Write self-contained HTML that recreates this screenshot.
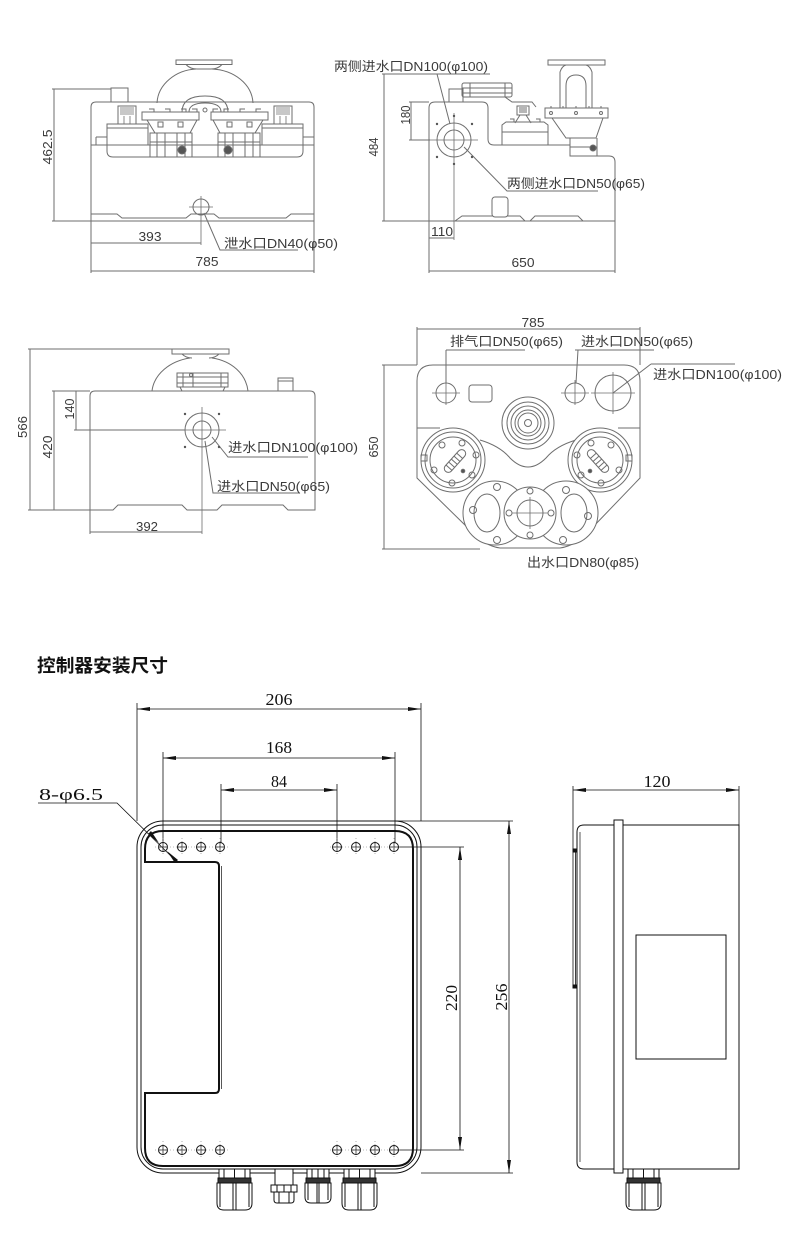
<!DOCTYPE html>
<html><head><meta charset="utf-8">
<style>
html,body{margin:0;padding:0;background:#fff;}
svg{display:block;}
.t{font-family:"Liberation Sans","Noto Sans CJK SC",sans-serif;font-size:13px;fill:#3a3a3a;stroke:none;}
.s{font-family:"Liberation Serif","Noto Serif CJK SC",serif;font-size:17px;fill:#111;stroke:none;}
.h{font-family:"Liberation Sans","Noto Sans CJK SC",sans-serif;font-size:18px;font-weight:bold;fill:#111;stroke:none;}
</style></head><body>
<svg width="790" height="1256" viewBox="0 0 790 1256" xmlns="http://www.w3.org/2000/svg">
<rect width="790" height="1256" fill="#fff"/>

<!-- ============ DRAWING 1 : front view ============ -->
<g fill="none" stroke="#6e6e6e" stroke-width="1">
 <rect x="176" y="60" width="56" height="4.5" fill="#fff"/>
 <path d="M186 64.5 Q190 69 197 69 L211 69 Q218 69 222 64.5"/>
 <path d="M157 103 C158 84 176 70 196 69 M212 69 C234 70 252 84 253 103"/>
 <path d="M91 145 L91 107 Q91 102 96 102 L309 102 Q314 102 314 107 L314 145"/>
 <rect x="111" y="88" width="17" height="14" fill="#fff"/>
 <path d="M182 112 Q182 96 205 96 Q228 96 228 112"/>
 <path d="M189 112 Q189 103 205 103 Q221 103 221 112"/>
 <circle cx="205" cy="110" r="2"/>
 <g id="pl">
  <rect x="107" y="124" width="41" height="21" fill="#fff"/>
  <path d="M107 128 H148 M96 137 H107 M96 137 V145"/>
  <rect x="118" y="106" width="18" height="18" fill="#fff"/>
  <path d="M120 108 H134 M120 110 H134 M120 112 H134 M120 114 H134 M124 116 V124 M130 116 V124" stroke-width="0.8"/>
  <rect x="142" y="112" width="57" height="8" fill="#fff"/>
  <path d="M149 109 h5 v3 M165 109 h5 v3 M181 109 h5 v3 M192 109 h5 v3"/>
  <path d="M147 120 L155 133 L190 133 L197 120"/>
  <path d="M158 122 h5 v5 h-5 z M178 122 h5 v5 h-5 z"/>
  <rect x="150" y="133" width="42" height="24" fill="#fff"/>
  <path d="M157 133 V157 M165 133 V157 M177 133 V157 M185 133 V157 M150 142 H192"/>
  <circle cx="182" cy="150" r="4" fill="#555"/>
 </g>
 <use href="#pl" transform="translate(410,0) scale(-1,1)"/>
 <path d="M107 145 V151 Q107 157 113 157 H150 M192 157 H218 M260 157 H297 Q303 157 303 151 V145"/>
 <path d="M91 145 H314 M91 145 V221 M314 145 V221"/>
 <path d="M91 214 H117 L122 218 H186 L191 214 H214 L219 218 H286 L291 214 H314"/>
 <line x1="91" y1="221" x2="314" y2="221"/>
 <circle cx="201" cy="207" r="8"/>
 <path d="M189 207 H213 M201 196 V245" stroke-width="0.8"/>
 <path d="M54 89 V221 M52 89 H111 M52 221 H91 M91 221 V273 M314 221 V273 M91 243 H201 M91 271 H314"/>
 <path d="M204 213 L220 250 H298"/>
</g>
<text class="t" transform="translate(52,147) rotate(-90)" text-anchor="middle" textLength="35" lengthAdjust="spacingAndGlyphs">462.5</text>
<text class="t" x="150" y="241" text-anchor="middle" textLength="23" lengthAdjust="spacingAndGlyphs">393</text>
<text class="t" x="207" y="266" text-anchor="middle" textLength="23" lengthAdjust="spacingAndGlyphs">785</text>
<text class="t" x="224" y="248" textLength="114" lengthAdjust="spacingAndGlyphs">泄水口DN40(φ50)</text>

<!-- ============ DRAWING 2 : side view ============ -->
<g fill="none" stroke="#6e6e6e" stroke-width="1">
 <path d="M429 221 V108 Q429 102 435 102 H482 Q488 102 488 108 V139 Q488 145 494 145 H570 V156 H609 Q615 156 615 162 V221 Z"/>
 <path d="M455 221 L462 216 H520 L525 221 M530 221 L535 216 H578 L583 221"/>
 <rect x="492" y="197" width="16" height="20" rx="3" fill="#fff"/>
 <rect x="449" y="89" width="14" height="13"/>
 <rect x="462" y="83" width="50" height="14" rx="2"/>
 <path d="M462 88 H512 M462 93 H512 M470 83 V97 M505 83 V97 M505 97 L512 102 H532 L536 107"/>
 <rect x="517" y="106" width="12" height="9"/>
 <path d="M519 108 H527 M519 110 H527 M519 112 H527 M520 115 L515 123 M526 115 L531 123"/>
 <path d="M502 145 V125 L506 122 H544 L548 125 V145"/>
 <path d="M510 119 h4 v3 M536 119 h4 v3 M502 132 H548"/>
 <rect x="548" y="60" width="57" height="5" fill="#fff"/>
 <path d="M560 108 V72 Q562 66 566 65 M592 108 V72 Q590 66 586 65"/>
 <path d="M566 108 V86 Q566 75 576 75 Q586 75 586 86 V108"/>
 <rect x="545" y="108" width="63" height="10" fill="#fff"/>
 <path d="M551 106 v2 M563 106 v2 M576 106 v2 M589 106 v2 M601 106 v2"/>
 <circle cx="551" cy="113" r="1.5"/><circle cx="601" cy="113" r="1.5"/><circle cx="576" cy="113" r="1.5"/>
 <path d="M552 118 L566 138 H596 L603 118"/>
 <path d="M570 138 V156 M597 138 V156 M570 147 H597"/>
 <circle cx="593" cy="148" r="3" fill="#555"/>
 <circle cx="454" cy="140" r="17" fill="#fff"/>
 <circle cx="454" cy="140" r="10"/>
 <path d="M430 140 H478 M454 113 V240" stroke-width="0.8"/>
 <path d="M384 74 V221 M382 74 H490 M382 221 H429 M411 102 V140 M409 102 H429 M409 140 H430 M429 221 V273 M615 221 V273 M429 238 H454 M429 271 H615"/>
 <path d="M437 74 L450 124"/>
 <path d="M464 147 L507 191 H598"/>
</g>
<g fill="#555"><circle cx="437" cy="124" r="1.2"/><circle cx="472" cy="124" r="1.2"/><circle cx="437" cy="157" r="1.2"/><circle cx="472" cy="157" r="1.2"/><circle cx="454" cy="116" r="1.2"/><circle cx="454" cy="164" r="1.2"/></g>
<text class="t" x="334" y="71" textLength="154" lengthAdjust="spacingAndGlyphs">两侧进水口DN100(φ100)</text>
<text class="t" transform="translate(378,147) rotate(-90)" text-anchor="middle" textLength="19" lengthAdjust="spacingAndGlyphs">484</text>
<text class="t" transform="translate(410,115) rotate(-90)" text-anchor="middle" textLength="19" lengthAdjust="spacingAndGlyphs">180</text>
<text class="t" x="442" y="236" text-anchor="middle" textLength="22" lengthAdjust="spacingAndGlyphs">110</text>
<text class="t" x="523" y="267" text-anchor="middle" textLength="23" lengthAdjust="spacingAndGlyphs">650</text>
<text class="t" x="507" y="188" textLength="138" lengthAdjust="spacingAndGlyphs">两侧进水口DN50(φ65)</text>

<!-- ============ DRAWING 3 : rear view ============ -->
<g fill="none" stroke="#6e6e6e" stroke-width="1">
 <rect x="172" y="349" width="57" height="5" fill="#fff"/>
 <path d="M182 354 Q186 358 192 358 M209 358 Q215 358 219 354"/>
 <path d="M152 391 C154 374 170 361 190 358 M212 358 C232 361 246 374 248 391"/>
 <rect x="177" y="373" width="51" height="14" fill="#fff"/>
 <path d="M177 377 H228 M177 383 H228 M183 373 V387 M193 373 V387 M221 373 V387 M180 387 L182 391 M225 387 L223 391"/>
 <circle cx="191" cy="375" r="1.5"/>
 <rect x="278" y="378" width="15" height="13"/>
 <path d="M278 381 H293"/>
 <path d="M90 510 V396 Q90 391 95 391 H310 Q315 391 315 396 V510 H288 L283 505 H222 L217 510 H187 L182 505 H118 L113 510 Z"/>
 <circle cx="202" cy="430" r="17" fill="#fff"/>
 <circle cx="202" cy="430" r="9"/>
 <path d="M182 430 H226 M202 407 V534" stroke-width="0.8"/>
 <path d="M30 349 V510 M54 391 V510 M76 391 V430 M28 349 H172 M52 391 H90 M74 430 H185 M28 510 H90 M90 510 V534 M90 532 H202"/>
 <path d="M212 437 L228 457 H308 M205 441 L213 493 H300"/>
</g>
<g fill="#555"><circle cx="185" cy="414" r="1.2"/><circle cx="219" cy="414" r="1.2"/><circle cx="185" cy="447" r="1.2"/><circle cx="219" cy="447" r="1.2"/></g>
<text class="t" transform="translate(27,427) rotate(-90)" text-anchor="middle" textLength="22" lengthAdjust="spacingAndGlyphs">566</text>
<text class="t" transform="translate(52,447) rotate(-90)" text-anchor="middle" textLength="23" lengthAdjust="spacingAndGlyphs">420</text>
<text class="t" transform="translate(74,409) rotate(-90)" text-anchor="middle" textLength="21" lengthAdjust="spacingAndGlyphs">140</text>
<text class="t" x="147" y="531" text-anchor="middle" textLength="22" lengthAdjust="spacingAndGlyphs">392</text>
<text class="t" x="228" y="452" textLength="130" lengthAdjust="spacingAndGlyphs">进水口DN100(φ100)</text>
<text class="t" x="217" y="491" textLength="113" lengthAdjust="spacingAndGlyphs">进水口DN50(φ65)</text>

<!-- ============ DRAWING 4 : top view ============ -->
<g fill="none" stroke="#6e6e6e" stroke-width="1">
 <path d="M417 478 V381 Q417 365 433 365 H624 Q640 365 640 381 V478 L592 528 Q576 546 560 548 H500 Q484 546 468 528 Z"/>
 <path d="M417 428 H440 M618 428 H640"/>
 <path d="M480 440 Q500 446 510 458 Q528 476 546 458 Q556 446 576 440"/>
 <circle cx="446" cy="393" r="10"/>
 <path d="M432 393 H460 M446 380 V405" stroke-width="0.8"/>
 <rect x="469" y="385" width="23" height="17" rx="3"/>
 <circle cx="575" cy="393" r="10"/>
 <path d="M561 393 H589 M575 380 V405" stroke-width="0.8"/>
 <circle cx="613" cy="393" r="18"/>
 <path d="M591 393 H635 M613 372 V414" stroke-width="0.8"/>
 <circle cx="528" cy="423" r="26"/>
 <circle cx="528" cy="423" r="21"/>
 <circle cx="528" cy="423" r="17"/>
 <circle cx="528" cy="423" r="13"/>
 <circle cx="528" cy="423" r="10"/>
 <circle cx="528" cy="423" r="3.5"/>
 <g id="pumpL">
  <circle cx="453" cy="460" r="32" fill="#fff"/>
  <circle cx="453" cy="460" r="28"/>
  <circle cx="453" cy="460" r="23"/>
  <circle cx="442" cy="445" r="3"/><circle cx="462" cy="443" r="3"/><circle cx="476" cy="455" r="3"/>
  <circle cx="472" cy="475" r="3"/><circle cx="452" cy="483" r="3"/><circle cx="434" cy="470" r="3"/>
  <g transform="rotate(-48 455 461)"><rect x="441" y="457" width="28" height="8" rx="4"/><path d="M446 457 V465 M450 457 V465 M454 457 V465 M458 457 V465 M462 457 V465"/></g>
  <circle cx="463" cy="471" r="1.8" fill="#555"/>
  <rect x="421" y="455" width="6" height="6"/>
 </g>
 <use href="#pumpL" transform="translate(1053,0) scale(-1,1)"/>
 <circle cx="495" cy="513" r="32" fill="#fff"/>
 <ellipse cx="487" cy="513" rx="13" ry="19"/>
 <circle cx="566" cy="513" r="32" fill="#fff"/>
 <ellipse cx="574" cy="513" rx="13" ry="19"/>
 <circle cx="497" cy="487" r="3.5"/><circle cx="473" cy="510" r="3.5"/><circle cx="497" cy="540" r="3.5"/>
 <circle cx="566" cy="490" r="3.5"/><circle cx="588" cy="516" r="3.5"/><circle cx="563" cy="540" r="3.5"/>
 <circle cx="530" cy="513" r="26" fill="#fff"/>
 <circle cx="530" cy="513" r="13"/>
 <circle cx="530" cy="491" r="3"/><circle cx="530" cy="535" r="3"/><circle cx="509" cy="513" r="3"/><circle cx="551" cy="513" r="3"/>
 <path d="M512 513 H548 M530 497 V529" stroke-width="0.8"/>
 <path d="M417 329 H640 M417 327 V365 M640 327 V365 M384 365 V549 M382 365 H417 M382 549 H480"/>
 <path d="M446 350 V383 M446 350 H525 M578 350 L576 383 M575 350 H654 M651 364 H735 M651 364 L613 393"/>
</g>
<text class="t" x="533" y="327" text-anchor="middle" textLength="23" lengthAdjust="spacingAndGlyphs">785</text>
<text class="t" transform="translate(378,447) rotate(-90)" text-anchor="middle" textLength="21" lengthAdjust="spacingAndGlyphs">650</text>
<text class="t" x="450" y="346" textLength="113" lengthAdjust="spacingAndGlyphs">排气口DN50(φ65)</text>
<text class="t" x="581" y="346" textLength="112" lengthAdjust="spacingAndGlyphs">进水口DN50(φ65)</text>
<text class="t" x="653" y="379" textLength="129" lengthAdjust="spacingAndGlyphs">进水口DN100(φ100)</text>
<text class="t" x="527" y="567" textLength="112" lengthAdjust="spacingAndGlyphs">出水口DN80(φ85)</text>

<!-- ============ CONTROLLER ============ -->
<text class="h" x="37" y="672" textLength="131" lengthAdjust="spacingAndGlyphs">控制器安装尺寸</text>

<g fill="none" stroke="#111" stroke-width="1">
 <!-- front body -->
 <rect x="137" y="821" width="284" height="352" rx="26"/>
 <rect x="141" y="825" width="276" height="344" rx="22"/>
 <path d="M145 862 V849 Q145 831 163 831 H395 Q413 831 413 849 V1148 Q413 1166 395 1166 H163 Q145 1166 145 1148 V1093 H215 Q219 1093 219 1089 V866 Q219 862 215 862 Z" stroke-width="2"/>
 <path d="M221.5 866 V1089" stroke-width="0.7"/>
 <!-- dimension lines -->
 <path d="M137 703 V821 M421 703 V821 M137 709 H421" stroke-width="0.8"/>
 <path d="M163 752 V843 M395 752 V843 M163 758 H395" stroke-width="0.8"/>
 <path d="M221 784 V843 M337 784 V843 M221 790 H337" stroke-width="0.8"/>
 <path d="M398 847 H464 M398 1150 H464 M460 847 V1150" stroke-width="0.8"/>
 <path d="M395 821 H513 M421 1173 H513 M509 821 V1173" stroke-width="0.8"/>
 <path d="M38 803 H117 L176 861" stroke-width="0.8"/>
 <!-- side view -->
 <path d="M573 786 V850 M739 786 V825 M573 790 H739" stroke-width="0.8"/>
 <path d="M584 825 H739 V1169 H584 Q577 1169 577 1162 V832 Q577 825 584 825 Z"/>
 <path d="M580 832 V1162" stroke-width="0.7"/>
 <path d="M573 850 V988 M575.5 850 V988" stroke-width="0.8"/>
 <rect x="573" y="849" width="3" height="3" fill="#111"/>
 <rect x="573" y="985" width="3" height="3" fill="#111"/>
 <rect x="614" y="820" width="9" height="353" fill="#fff"/>
 <rect x="636" y="935" width="90" height="124"/>
</g>

<!-- holes -->
<g fill="none" stroke="#111" stroke-width="1">
 <g id="hr">
  <circle cx="163" cy="847" r="4.5"/><circle cx="182" cy="847" r="4.5"/><circle cx="201" cy="847" r="4.5"/><circle cx="220" cy="847" r="4.5"/>
  <circle cx="337" cy="847" r="4.5"/><circle cx="356" cy="847" r="4.5"/><circle cx="375" cy="847" r="4.5"/><circle cx="394" cy="847" r="4.5"/>
  <path d="M163 843 V851 M182 843 V851 M201 843 V851 M220 843 V851 M337 843 V851 M356 843 V851 M375 843 V851 M394 843 V851 M159 847 H167 M178 847 H186 M197 847 H205 M216 847 H224 M333 847 H341 M352 847 H360 M371 847 H379 M390 847 H398" stroke-width="0.7"/>
  <path d="M155 847 H228 M330 847 H401 M163 838 V856 M182 838 V856 M201 838 V856 M220 838 V856 M337 838 V856 M356 838 V856 M375 838 V856 M394 838 V856" stroke="#777" stroke-width="0.6" stroke-dasharray="1,2"/>
 </g>
 <use href="#hr" transform="translate(0,303)"/>
</g>

<!-- arrowheads -->
<g fill="#111" stroke="none">
 <polygon points="137,709 150,707 150,711"/><polygon points="421,709 408,707 408,711"/>
 <polygon points="163,758 176,756 176,760"/><polygon points="395,758 382,756 382,760"/>
 <polygon points="221,790 234,788 234,792"/><polygon points="337,790 324,788 324,792"/>
 <polygon points="573,790 586,788 586,792"/><polygon points="739,790 726,788 726,792"/>
 <polygon points="460,847 458,860 462,860"/><polygon points="460,1150 458,1137 462,1137"/>
 <polygon points="509,821 507,834 511,834"/><polygon points="509,1173 507,1160 511,1160"/>
 <polygon points="159,843 148,834 151,831"/>
 <polygon points="167,851 178,860 175,863"/>
</g>

<!-- glands -->
<g stroke="#111" stroke-width="1" fill="#fff">
 <!-- gland 1 -->
 <rect x="219" y="1169" width="31" height="9"/>
 <path d="M224 1169 V1178 M234.5 1169 V1178 M245 1169 V1178" fill="none"/>
 <rect x="218" y="1178" width="33" height="5" fill="#333"/>
 <path d="M217 1183 V1203 Q217 1210 224 1210 H245 Q252 1210 252 1203 V1183 Z"/>
 <path d="M220 1183 V1207 M233 1183 V1210 M236 1183 V1210 M249 1183 V1207" fill="none"/>
 <!-- connector 2 -->
 <rect x="275" y="1169" width="18" height="16"/>
 <rect x="271" y="1185" width="26" height="7"/>
 <path d="M277 1185 V1192 M284 1185 V1192 M291 1185 V1192" fill="none"/>
 <path d="M274 1192 H294 V1200 Q294 1203 291 1203 H277 Q274 1203 274 1200 Z"/>
 <path d="M279 1192 V1203 M289 1192 V1203" fill="none"/>
 <!-- gland 3 -->
 <rect x="307" y="1169" width="22" height="9"/>
 <path d="M312 1169 V1178 M318 1169 V1178 M324 1169 V1178" fill="none"/>
 <rect x="306" y="1178" width="24" height="5" fill="#333"/>
 <path d="M305 1183 V1197 Q305 1203 311 1203 H325 Q331 1203 331 1197 V1183 Z"/>
 <path d="M308 1183 V1200 M317 1183 V1203 M319 1183 V1203 M328 1183 V1200" fill="none"/>
 <!-- gland 4 -->
 <rect x="344" y="1169" width="31" height="9"/>
 <path d="M349 1169 V1178 M359.5 1169 V1178 M370 1169 V1178" fill="none"/>
 <rect x="343" y="1178" width="33" height="5" fill="#333"/>
 <path d="M342 1183 V1203 Q342 1210 349 1210 H370 Q377 1210 377 1203 V1183 Z"/>
 <path d="M345 1183 V1207 M358 1183 V1210 M361 1183 V1210 M374 1183 V1207" fill="none"/>
 <!-- side gland -->
 <rect x="628" y="1169" width="31" height="9"/>
 <path d="M633 1169 V1178 M643.5 1169 V1178 M654 1169 V1178" fill="none"/>
 <rect x="627" y="1178" width="33" height="5" fill="#333"/>
 <path d="M626 1183 V1203 Q626 1210 633 1210 H654 Q661 1210 661 1203 V1183 Z"/>
 <path d="M629 1183 V1207 M642 1183 V1210 M645 1183 V1210 M658 1183 V1207" fill="none"/>
</g>

<!-- controller texts -->
<text class="s" x="279" y="705" text-anchor="middle" textLength="27" lengthAdjust="spacingAndGlyphs">206</text>
<text class="s" x="279" y="753" text-anchor="middle" textLength="26" lengthAdjust="spacingAndGlyphs">168</text>
<text class="s" x="279" y="787" text-anchor="middle" textLength="16" lengthAdjust="spacingAndGlyphs">84</text>
<text class="s" x="39" y="800" textLength="64" lengthAdjust="spacingAndGlyphs">8-φ6.5</text>
<text class="s" x="657" y="787" text-anchor="middle" textLength="27" lengthAdjust="spacingAndGlyphs">120</text>
<text class="s" transform="translate(457,998) rotate(-90)" text-anchor="middle" textLength="26" lengthAdjust="spacingAndGlyphs">220</text>
<text class="s" transform="translate(507,997) rotate(-90)" text-anchor="middle" textLength="27" lengthAdjust="spacingAndGlyphs">256</text>
</svg>
</body></html>
